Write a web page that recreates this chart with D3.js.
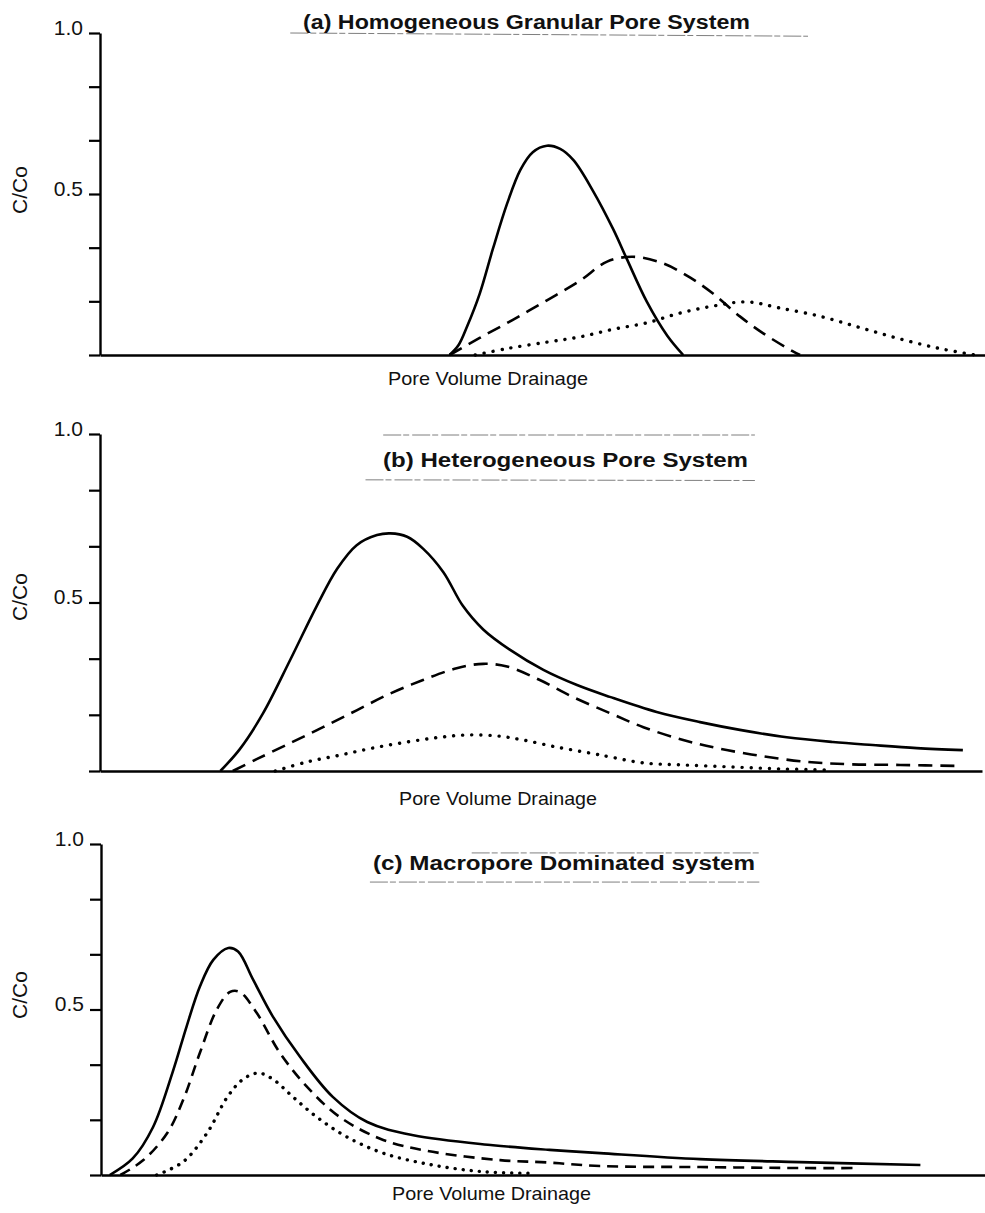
<!DOCTYPE html>
<html>
<head>
<meta charset="utf-8">
<script src="https://cdn.jsdelivr.net/npm/d3@7"></script>
<style>
  body { margin: 0; background: #fff; }
  svg text { font-family: "Liberation Sans", Arial, Helvetica, sans-serif; fill: #111; }
</style>
</head>
<body>
<div id="canvas"></div>
<script>
// y axis ticks (C/Co), only 0.5 and 1.0 are labelled
const yTickValues = [0, 0.1667, 0.3333, 0.5, 0.6667, 0.8333, 1.0];
const yTickLabels = ["", "", "", "0.5", "", "", "1.0"];

const panelTitles = [
  "(a) Homogeneous Granular Pore System",
  "(b) Heterogeneous Pore System",
  "(c) Macropore Dominated system"
];
const xLabel = "Pore  Volume  Drainage";
const yLabel = "C/Co";

// (a) homogeneous granular
const aSolidX = [3.95, 4.05, 4.15, 4.29, 4.44, 4.6, 4.75, 4.89, 5.05, 5.2, 5.35, 5.57, 5.8, 5.95, 6.18, 6.41, 6.59];
const aSolidY = [0, 0.03, 0.09, 0.19, 0.33, 0.47, 0.575, 0.63, 0.65, 0.64, 0.605, 0.51, 0.39, 0.30, 0.165, 0.06, 0];
const aDashX = [3.95, 4.29, 4.67, 5.05, 5.42, 5.73, 6.02, 6.36, 6.67, 6.93, 7.23, 7.49, 7.8, 7.91];
const aDashY = [0, 0.053, 0.11, 0.17, 0.23, 0.29, 0.305, 0.285, 0.24, 0.19, 0.12, 0.068, 0.016, 0];
const aDotX = [4.24, 4.6, 5.05, 5.42, 5.8, 6.18, 6.55, 6.93, 7.31, 7.68, 8.14, 8.59, 9.04, 9.49, 9.89];
const aDotY = [0, 0.02, 0.04, 0.056, 0.08, 0.10, 0.13, 0.152, 0.165, 0.146, 0.12, 0.085, 0.05, 0.02, 0];

// (b) heterogeneous
const bSolidX = [1.36, 1.58, 1.84, 2.15, 2.45, 2.68, 2.9, 3.13, 3.28, 3.47, 3.65, 3.88, 4.1, 4.33, 4.63, 5.01, 5.39, 5.76, 6.29, 6.78, 7.23, 7.76, 8.28, 8.73, 9.23, 9.75];
const bSolidY = [0, 0.065, 0.17, 0.33, 0.49, 0.60, 0.67, 0.70, 0.705, 0.695, 0.66, 0.59, 0.49, 0.42, 0.36, 0.30, 0.255, 0.22, 0.175, 0.145, 0.122, 0.10, 0.086, 0.077, 0.068, 0.062];
const bDashX = [1.5, 1.77, 2.15, 2.52, 2.9, 3.28, 3.65, 4.03, 4.33, 4.6, 4.97, 5.34, 5.76, 6.14, 6.59, 6.97, 7.46, 7.99, 8.47, 9.04, 9.72];
const bDashY = [0, 0.035, 0.083, 0.13, 0.18, 0.23, 0.27, 0.305, 0.318, 0.31, 0.27, 0.22, 0.172, 0.13, 0.092, 0.068, 0.045, 0.027, 0.02, 0.018, 0.015];
const bDotX = [1.98, 2.34, 2.71, 3.08, 3.47, 3.84, 4.15, 4.49, 4.78, 5.16, 5.54, 5.76, 6.14, 6.59, 7.15, 7.72, 8.28];
const bDotY = [0, 0.027, 0.047, 0.068, 0.086, 0.10, 0.107, 0.104, 0.092, 0.071, 0.053, 0.042, 0.024, 0.018, 0.012, 0.006, 0.003];

// (c) macropore dominated
const cSolidX = [0.11, 0.37, 0.6, 0.82, 0.98, 1.13, 1.28, 1.45, 1.56, 1.73, 1.95, 2.26, 2.63, 3.02, 3.54, 4.44, 5.08, 5.65, 6.78, 7.91, 9.27];
const cSolidY = [0, 0.05, 0.145, 0.31, 0.45, 0.57, 0.65, 0.686, 0.675, 0.59, 0.48, 0.357, 0.236, 0.16, 0.12, 0.09, 0.076, 0.066, 0.048, 0.039, 0.03];
const cDashX = [0.23, 0.49, 0.76, 0.94, 1.13, 1.32, 1.47, 1.58, 1.77, 2.03, 2.34, 2.71, 3.2, 3.76, 4.52, 5.05, 5.65, 6.78, 7.91, 8.51];
const cDashY = [0, 0.045, 0.127, 0.227, 0.37, 0.50, 0.553, 0.553, 0.49, 0.37, 0.266, 0.175, 0.106, 0.07, 0.045, 0.038, 0.027, 0.024, 0.021, 0.021];
const cDotX = [0.64, 0.94, 1.21, 1.44, 1.62, 1.79, 1.95, 2.18, 2.45, 2.79, 3.2, 3.76, 4.33, 4.89];
const cDotY = [0, 0.04, 0.127, 0.236, 0.29, 0.308, 0.29, 0.236, 0.175, 0.115, 0.066, 0.03, 0.01, 0.005];

(function(){
  const w = 985;
  const h = 1213;

  const zip = (xs, ys) => xs.map((x, i) => [x, ys[i]]);

  // one entry per panel: vertical placement + series
  const panels = [
    { top: 33, base: 355, left: 100, right: 985,
      titleX: 303, titleY: 29, titleW: 447,
      labelX: 388, labelY: 385, labelW: 200, yLabelY: 190,
      series: [zip(aSolidX, aSolidY), zip(aDashX, aDashY), zip(aDotX, aDotY)],
      scan: [[2.15, 1.0, 8.0, 0.99]] },
    { top: 434, base: 771, left: 100, right: 982,
      titleX: 383, titleY: 467, titleW: 365,
      labelX: 399, labelY: 805, labelW: 198, yLabelY: 597,
      series: [zip(bSolidX, bSolidY), zip(bDashX, bDashY), zip(bDotX, bDotY)],
      scan: [[3.0, 0.864, 7.4, 0.862], [3.2, 0.997, 7.4, 0.997]] },
    { top: 844, base: 1175, left: 101, right: 985,
      titleX: 373, titleY: 870, titleW: 382,
      labelX: 392, labelY: 1200, labelW: 199, yLabelY: 995,
      series: [zip(cSolidX, cSolidY), zip(cDashX, cDashY), zip(cDotX, cDotY)],
      scan: [[3.05, 0.885, 7.45, 0.885], [4.2, 0.973, 7.45, 0.973]] }
  ];

  const styles = [
    { dash: null, width: 2.6, cap: "butt" },
    { dash: "14,8", width: 2.6, cap: "butt" },
    { dash: "0.1,9", width: 3.4, cap: "round" }
  ];
  const styleC = [
    { dash: null, width: 2.6, cap: "butt" },
    { dash: "11,7", width: 2.6, cap: "butt" },
    { dash: "0.1,8", width: 3.4, cap: "round" }
  ];

  const canvas = d3.select("#canvas")
    .append("svg")
    .attr("width", w)
    .attr("height", h);

  panels.forEach((p, pi) => {
    const x = d3.scaleLinear().domain([0, 10]).range([100, 985]);
    const y = d3.scaleLinear().domain([0, 1]).range([p.base, p.top]);
    const g = canvas.append("g");

    // faint scan lines around the titles
    g.selectAll("line.scan")
      .data(p.scan)
      .enter()
      .append("line")
      .attr("class", "scan")
      .attr("x1", d => x(d[0])).attr("y1", d => y(d[1]))
      .attr("x2", d => x(d[2])).attr("y2", d => y(d[3]))
      .attr("stroke", "#555")
      .attr("stroke-width", 1)
      .attr("stroke-dasharray", "18,2,6,3")
      .attr("opacity", 0.75);

    // y axis
    const yAxis = d3.axisLeft(y)
      .tickValues(yTickValues)
      .tickSize(11)
      .tickSizeOuter(0)
      .tickPadding(6)
      .tickFormat((d, i) => yTickLabels[i]);
    const ya = g.append("g")
      .attr("transform", `translate(${p.left},0)`)
      .call(yAxis);
    ya.select(".domain").attr("stroke", "#000").attr("stroke-width", 2.4);
    ya.selectAll(".tick line").attr("stroke", "#000").attr("stroke-width", 2.2);
    ya.selectAll(".tick text")
      .attr("font-size", 21)
      .attr("dy", "0.05em")
      .style("font-family", "Liberation Sans, Arial, sans-serif")
      .attr("fill", "#111");

    // x axis baseline, no ticks
    const xa = g.append("g")
      .attr("transform", `translate(0,${p.base})`)
      .call(d3.axisBottom(x.copy().range([p.left, p.right])).tickValues([]).tickSizeOuter(0));
    xa.select(".domain").attr("stroke", "#000").attr("stroke-width", 2.6);

    // curves
    const line = d3.line()
      .x(d => x(d[0]))
      .y(d => y(Math.max(0, d[1])))
      .curve(d3.curveCatmullRom.alpha(0.5));
    const st = pi === 2 ? styleC : styles;
    g.selectAll("path.curve")
      .data(p.series)
      .enter()
      .append("path")
      .attr("class", "curve")
      .attr("d", line)
      .attr("fill", "none")
      .attr("stroke", "#000")
      .attr("stroke-width", (d, i) => st[i].width)
      .attr("stroke-linecap", (d, i) => st[i].cap)
      .attr("stroke-dasharray", (d, i) => st[i].dash);

    // title
    g.append("text")
      .attr("x", p.titleX)
      .attr("y", p.titleY)
      .attr("font-size", 20)
      .attr("font-weight", "bold")
      .attr("textLength", p.titleW)
      .attr("lengthAdjust", "spacingAndGlyphs")
      .text(panelTitles[pi]);

    // x label
    g.append("text")
      .attr("x", p.labelX)
      .attr("y", p.labelY)
      .attr("font-size", 19)
      .attr("textLength", p.labelW)
      .attr("lengthAdjust", "spacingAndGlyphs")
      .text(xLabel);

    // y label
    g.append("text")
      .attr("transform", `translate(27,${p.yLabelY}) rotate(-90)`)
      .attr("text-anchor", "middle")
      .attr("font-size", 21)
      .text(yLabel);
  });
})();
</script>
</body>
</html>
